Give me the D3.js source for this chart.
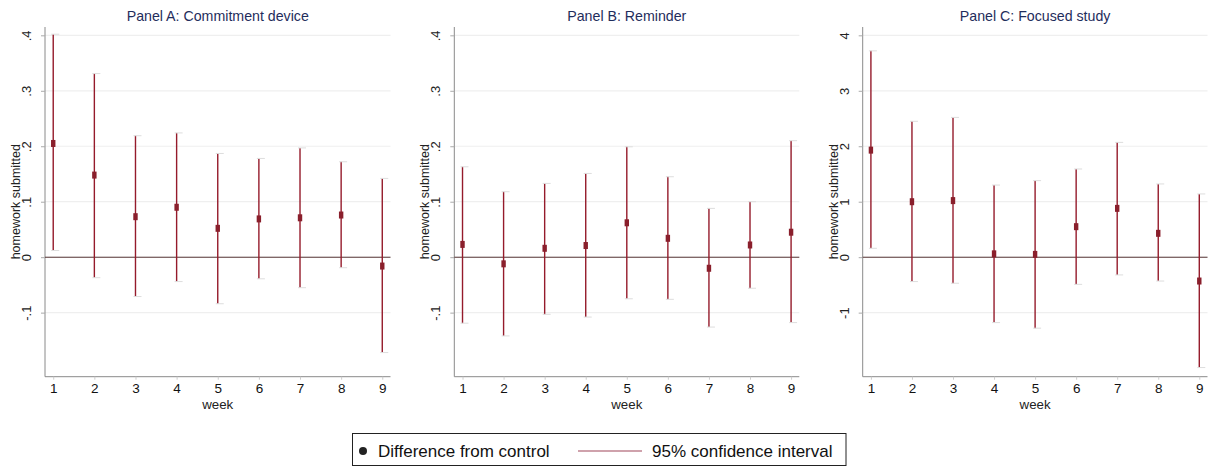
<!DOCTYPE html>
<html><head><meta charset="utf-8">
<script src="https://cdn.jsdelivr.net/npm/d3@7"></script>
<style>body{margin:0;background:#fff;}svg{display:block;font-family:"Liberation Sans",Arial,sans-serif;}</style>
</head><body>
<svg id="c" width="1211" height="469"></svg>
<script>
const weeks = [1,2,3,4,5,6,7,8,9];
const panelTitles = ["Panel A: Commitment device","Panel B: Reminder","Panel C: Focused study"];
const yTicks = [-0.1,0,0.1,0.2,0.3,0.4];
const yTickLabelsAB = ["-.1","0",".1",".2",".3",".4"];
const yTickLabelsC = ["-1","0","1","2","3","4"];
// Panel A
const estA = [0.205,0.148,0.073,0.090,0.052,0.069,0.071,0.076,-0.016];
const loA  = [0.012,-0.037,-0.071,-0.044,-0.084,-0.039,-0.055,-0.019,-0.172];
const hiA  = [0.402,0.331,0.219,0.224,0.187,0.178,0.197,0.172,0.142];
// Panel B
const estB = [0.023,-0.012,0.016,0.021,0.062,0.034,-0.020,0.022,0.045];
const loB  = [-0.119,-0.142,-0.103,-0.108,-0.075,-0.076,-0.126,-0.056,-0.118];
const hiB  = [0.163,0.118,0.133,0.151,0.199,0.145,0.088,0.100,0.210];
// Panel C
const estC = [0.193,0.100,0.102,0.006,0.005,0.055,0.088,0.043,-0.043];
const loC  = [0.016,-0.044,-0.047,-0.118,-0.128,-0.049,-0.032,-0.043,-0.199];
const hiC  = [0.372,0.245,0.252,0.130,0.138,0.159,0.207,0.132,0.114];
const legendLabels = ["Difference from control","95% confidence interval"];

const panels = [
  {title:panelTitles[0], est:estA, lo:loA, hi:hiA, x0:45, x1:390.5, labels:yTickLabelsAB},
  {title:panelTitles[1], est:estB, lo:loB, hi:hiB, x0:454.3, x1:799.3, labels:yTickLabelsAB},
  {title:panelTitles[2], est:estC, lo:loC, hi:hiC, x0:862.7, x1:1207.5, labels:yTickLabelsC}
];
const svg = d3.select("#c");
const yTop = 27, yBot = 376.7;
const ciColor = "#951b2b", ptColor = "#8a1f2c";

panels.forEach(p => {
  const x = d3.scaleLinear().domain([0.8,9.2]).range([p.x0,p.x1]);
  const y = d3.scaleLinear().domain([-0.2155,0.415]).range([yBot,yTop]);
  const g = svg.append("g");
  g.selectAll(".grid").data(yTicks).join("line")
    .attr("x1",p.x0).attr("x2",p.x1).attr("y1",d=>y(d)).attr("y2",d=>y(d))
    .attr("stroke","#efefef").attr("stroke-width",1.2);
  const ya = d3.axisLeft(y).tickValues(yTicks).tickSize(4).tickPadding(6)
    .tickFormat((d,i)=>p.labels[i]);
  const yg = g.append("g").attr("transform",`translate(${p.x0},0)`).call(ya);
  yg.select(".domain").attr("stroke","#8a8a8a").attr("d",`M-0,${yTop}V${yBot}`);
  yg.selectAll(".tick line").attr("stroke","#aaa");
  yg.selectAll(".tick text").attr("font-size",13).attr("fill","#222")
    .attr("text-anchor","middle").attr("dy",0)
    .attr("transform","translate(-14,0) rotate(-90)").attr("x",0).attr("y",0);
  const xa = d3.axisBottom(x).tickValues(weeks).tickSize(3).tickPadding(4).tickFormat(d3.format("d"));
  const xg = g.append("g").attr("transform",`translate(0,${yBot})`).call(xa);
  xg.select(".domain").attr("stroke","#8a8a8a").attr("d",`M${p.x0},0H${p.x1}`);
  xg.selectAll(".tick line").attr("stroke","#ccc");
  xg.selectAll(".tick text").attr("font-size",13.5).attr("fill","#111");
  g.append("line").attr("x1",p.x0).attr("x2",p.x1).attr("y1",y(0)).attr("y2",y(0))
    .attr("stroke","#5a3838").attr("stroke-width",1.1);
  g.append("text").attr("x",(p.x0+p.x1)/2).attr("y",21).attr("text-anchor","middle")
    .attr("font-size",14.2).attr("fill","#1f2d5c").text(p.title);
  g.append("text").attr("x",(p.x0+p.x1)/2).attr("y",409).attr("text-anchor","middle")
    .attr("font-size",13.3).attr("fill","#222").text("week");
  g.append("text").attr("transform",`translate(${p.x0-25},${y(0.1)}) rotate(-90)`)
    .attr("text-anchor","middle").attr("font-size",12.5).attr("fill","#222").text("homework submitted");
  g.selectAll(".ci").data(weeks).join("line")
    .attr("x1",d=>x(d)).attr("x2",d=>x(d))
    .attr("y1",(d,i)=>y(p.lo[i])).attr("y2",(d,i)=>y(p.hi[i]))
    .attr("stroke",ciColor).attr("stroke-width",1.4);
  ["lo","hi"].forEach(k=>{
    g.selectAll(".cap"+k).data(weeks).join("line")
      .attr("x1",d=>x(d)-2).attr("x2",d=>x(d)+6)
      .attr("y1",(d,i)=>y(p[k][i])).attr("y2",(d,i)=>y(p[k][i]))
      .attr("stroke","#ddd").attr("stroke-width",1);
  });
  g.selectAll(".pt").data(weeks).join("rect")
    .attr("x",d=>x(d)-2.2).attr("y",(d,i)=>y(p.est[i])-3.5)
    .attr("width",4.4).attr("height",7).attr("fill",ptColor);
});

const lg = svg.append("g");
lg.append("rect").attr("x",352.5).attr("y",433.5).attr("width",493.5).attr("height",32)
  .attr("fill","#fff").attr("stroke","#222").attr("stroke-width",1);
lg.append("circle").attr("cx",363).attr("cy",451).attr("r",4).attr("fill","#222");
lg.append("text").attr("x",378).attr("y",457).attr("font-size",17).attr("fill","#111").text(legendLabels[0]);
lg.append("line").attr("x1",578).attr("x2",642).attr("y1",451).attr("y2",451)
  .attr("stroke","#a0465a").attr("stroke-width",1.2);
lg.append("text").attr("x",652).attr("y",457).attr("font-size",17).attr("fill","#111").text(legendLabels[1]);
</script>
</body></html>
